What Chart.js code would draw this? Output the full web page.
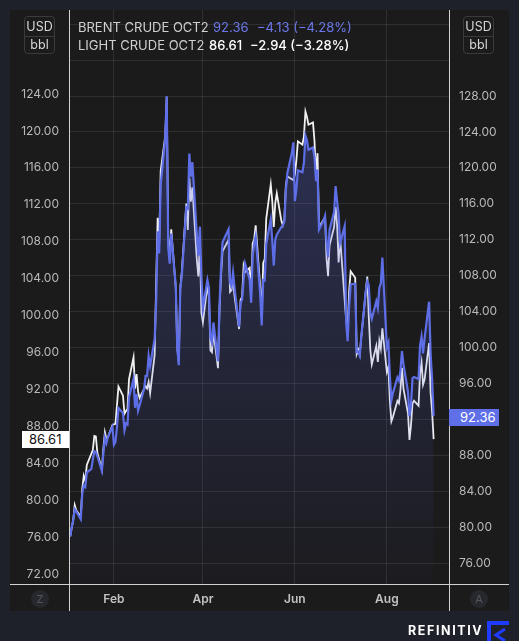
<!DOCTYPE html>
<html><head><meta charset="utf-8">
<script src="https://cdn.jsdelivr.net/npm/chart.js@4/dist/chart.umd.min.js"></script>
<style>
html,body{margin:0;padding:0;background:#1f212a;width:519px;height:641px;overflow:hidden;font-family:Inter,"Noto Sans",sans-serif;}
#box{position:absolute;left:10px;top:10px;width:499px;height:601px;background:#1b1b1c;}
#wrap{position:absolute;left:0;top:0;width:519px;height:641px;}
.t{position:absolute;white-space:nowrap;font-size:13px;line-height:16px;}
.unit{position:absolute;top:16px;width:31px;height:38px;border:1px solid #3b3b3f;border-radius:4px;box-sizing:border-box;color:#d6d6d8;font-size:12.5px;text-align:center;}
.unit .a{position:absolute;left:0;right:0;top:1px;height:18px;line-height:18px;border-bottom:1px solid #3b3b3f;}
.unit .b{position:absolute;left:0;right:0;top:19px;height:17px;line-height:17px;}
.circ{position:absolute;top:590px;width:18px;height:18px;border-radius:9px;background:#27282d;color:#55565c;font-size:11px;line-height:18px;text-align:center;}
.vbox{position:absolute;height:17px;line-height:17px;font-size:13px;box-sizing:border-box;}
</style></head>
<body>
<div id="box"></div>
<div id="wrap"><canvas id="c"></canvas></div>
<div class="unit" style="left:24px"><div class="a">USD</div><div class="b">bbl</div></div>
<div class="unit" style="left:463px"><div class="a">USD</div><div class="b">bbl</div></div>
<div class="t" style="left:78px;top:19px;color:#d0d0d3">BRENT CRUDE OCT2</div>
<div class="t" style="left:213px;top:19px;color:#6b78ea">92.36</div>
<div class="t" style="left:257px;top:19px;color:#6b78ea">−4.13 (−4.28%)</div>
<div class="t" style="left:78px;top:37px;color:#d0d0d3">LIGHT CRUDE OCT2</div>
<div class="t" style="left:209px;top:37px;color:#ffffff;font-weight:500">86.61</div>
<div class="t" style="left:250px;top:37px;color:#ffffff;font-weight:500">−2.94 (−3.28%)</div>
<div class="circ" style="left:31px">Z</div>
<div class="circ" style="left:470px">A</div>
<div class="t" style="left:408px;top:623px;color:#ffffff;font-weight:700;font-size:12.5px;letter-spacing:1.6px">REFINITIV</div>
<svg style="position:absolute;left:486px;top:620px" width="33" height="21">
<path d="M3 21 V3 H23" fill="none" stroke="#1f3bff" stroke-width="4"/>
<path d="M19 9 L10 15 L19 21" fill="none" stroke="#1f3bff" stroke-width="3"/>
</svg>
<div id="lv" class="vbox" style="left:22px;width:47px;background:#ffffff;color:#111;padding-left:7px">86.61</div>
<div id="rv" class="vbox" style="left:449px;width:50px;background:#5f6fe8;color:#fff;padding-left:11px">92.36</div>
<script>
// ---- data (2022) ----
const dates = [
 '01-03','01-04','01-05','01-06','01-07','01-10','01-11','01-12','01-13','01-14','01-17','01-18','01-19','01-20','01-21','01-24','01-25','01-26','01-27','01-28','01-31',
 '02-01','02-02','02-03','02-04','02-07','02-08','02-09','02-10','02-11','02-14','02-15','02-16','02-17','02-18','02-21','02-22','02-23','02-24','02-25','02-28',
 '03-01','03-02','03-03','03-04','03-07','03-08','03-09','03-10','03-11','03-14','03-15','03-16','03-17','03-18','03-21','03-22','03-23','03-24','03-25','03-28','03-29','03-30','03-31',
 '04-01','04-04','04-05','04-06','04-07','04-08','04-11','04-12','04-13','04-14','04-18','04-19','04-20','04-21','04-22','04-25','04-26','04-27','04-28','04-29',
 '05-02','05-03','05-04','05-05','05-06','05-09','05-10','05-11','05-12','05-13','05-16','05-17','05-18','05-19','05-20','05-23','05-24','05-25','05-26','05-27','05-30','05-31',
 '06-01','06-02','06-03','06-06','06-07','06-08','06-09','06-10','06-13','06-14','06-15','06-16','06-17','06-20','06-21','06-22','06-23','06-24','06-27','06-28','06-29','06-30',
 '07-01','07-04','07-05','07-06','07-07','07-08','07-11','07-12','07-13','07-14','07-15','07-18','07-19','07-20','07-21','07-22','07-25','07-26','07-27','07-28','07-29',
 '08-01','08-02','08-03','08-04','08-05','08-08','08-09','08-10','08-11','08-12','08-15','08-16','08-17','08-18','08-19','08-22','08-23','08-24','08-25','08-26','08-29','08-30','08-31',
 '09-01'
];
const brent = [
 78.98,80.00,80.80,81.99,81.75,80.87,83.72,84.67,84.47,86.06,86.48,87.51,88.44,88.38,87.89,86.27,88.20,89.96,89.34,90.03,91.21,
 89.16,89.47,91.11,93.27,92.69,90.78,91.55,91.41,94.44,96.48,93.28,94.81,92.97,93.54,95.39,96.84,96.84,99.08,97.93,100.99,
 104.97,112.93,110.46,118.11,123.21,127.98,111.14,109.33,112.67,106.90,99.91,98.02,106.64,107.93,115.62,115.48,121.60,119.03,120.65,112.48,110.23,113.45,107.91,
 104.39,107.53,106.64,101.07,100.58,102.78,98.48,104.64,108.78,111.70,113.16,107.25,106.80,108.33,106.65,102.32,104.99,105.32,107.59,109.34,
 107.58,104.97,110.14,111.55,112.39,105.94,102.46,107.51,107.45,111.55,114.24,111.93,109.11,112.04,112.55,113.42,113.56,114.03,117.40,119.43,121.67,122.84,
 116.29,117.61,119.72,119.51,120.57,123.58,123.07,122.01,122.27,121.17,118.51,119.81,113.12,114.13,114.65,111.74,110.05,113.12,115.09,117.98,116.26,114.81,
 111.63,113.50,102.77,100.69,104.65,107.02,107.10,99.49,99.57,99.10,101.16,106.27,107.35,106.92,103.86,103.20,105.15,104.40,106.62,107.14,110.01,
 100.03,100.54,96.78,94.12,94.92,96.65,96.31,97.40,99.60,98.15,95.10,92.34,93.65,96.59,96.72,96.48,100.22,101.22,99.34,100.99,105.09,99.31,96.49,
 92.36
];
const light = [
 76.08,76.99,77.85,79.46,78.90,78.23,81.22,82.64,82.12,83.82,null,85.43,86.96,86.90,85.14,83.31,85.60,87.35,86.61,86.82,88.15,
 88.20,88.26,90.27,92.31,91.32,89.36,89.66,89.88,93.10,95.46,92.07,93.66,91.76,91.07,null,92.35,92.10,92.81,91.59,95.72,
 103.41,110.60,107.67,115.68,119.40,123.70,108.70,106.02,109.33,103.01,96.44,95.04,102.98,104.70,112.12,109.27,114.93,112.34,113.90,105.96,104.24,107.82,100.28,
 99.27,103.28,102.00,96.23,96.03,98.26,94.29,100.60,104.25,106.95,108.21,102.56,102.75,103.79,102.07,98.54,101.70,102.02,105.36,104.69,
 105.17,102.41,107.81,108.26,109.77,103.09,99.76,105.71,106.13,110.49,114.20,112.40,109.59,112.21,113.23,110.29,109.77,110.33,114.09,115.07,null,114.67,
 115.26,116.87,118.87,118.50,119.41,122.11,121.51,120.67,120.93,118.93,115.31,117.59,109.56,null,110.65,106.19,104.27,107.62,109.57,111.76,109.78,105.76,
 108.43,null,99.50,98.53,102.73,104.79,104.09,95.84,96.30,95.78,97.59,102.60,104.22,99.88,96.35,94.70,96.70,94.98,97.26,96.42,98.62,
 93.89,94.42,90.66,88.54,89.01,90.76,90.50,91.93,94.34,92.09,89.41,86.53,88.11,90.50,90.77,90.23,93.74,94.89,92.52,93.06,97.01,91.64,89.55,
 86.61
];
const leftTicks = [72,76,80,84,88,92,96,100,104,108,112,116,120,124];
const rightTicks = [76,80,84,88,92,96,100,104,108,112,116,120,124,128,132,136];
const rightHidden = [92,132,136];
const monthDates = ['02-01','04-01','06-01','08-01'];
const monthLabels = ['Feb','Apr','Jun','Aug'];
const brentLast = 92.36, lightLast = 86.61;

function dayOf(md){const p=md.split('-').map(Number);return (Date.UTC(2022,p[0]-1,p[1])-Date.UTC(2022,0,1))/86400000;}

const BLUE='#5e6ee6';
const GRID='rgba(255,255,255,0.09)';
const noPad=(s)=>{s.paddingTop=0;s.paddingBottom=0;s.paddingLeft=0;s.paddingRight=0;};
const frame={id:'frame',afterDraw(chart){
  const ctx=chart.ctx,a=chart.chartArea;
  ctx.save();ctx.strokeStyle='#d2d2d4';ctx.lineWidth=1;ctx.beginPath();
  const l=Math.round(a.left)+0.5,r=Math.round(a.right)+0.5,b=Math.round(a.bottom)+0.5;
  ctx.moveTo(l,10);ctx.lineTo(l,611);
  ctx.moveTo(r,10);ctx.lineTo(r,611);
  ctx.moveTo(10,b);ctx.lineTo(509,b);
  ctx.stroke();ctx.restore();
}};

const chart=new Chart(document.getElementById('c'),{
  type:'line',
  data:{datasets:[
    {label:'BRENT CRUDE OCT2',yAxisID:'yR',order:1,data:dates.map((d,i)=>({x:dayOf(d),y:brent[i]})),
     borderColor:BLUE,borderWidth:2.2,pointRadius:0,tension:0,fill:'start',
     backgroundColor:(c)=>{const a=c.chart.chartArea;if(!a)return 'rgba(0,0,0,0)';
       const g=c.chart.ctx.createLinearGradient(0,a.top,0,a.bottom);
       g.addColorStop(0,'rgba(88,100,215,0.36)');g.addColorStop(1,'rgba(88,100,215,0.02)');return g;}},
    {label:'LIGHT CRUDE OCT2',yAxisID:'yL',order:2,data:dates.map((d,i)=>({x:dayOf(d),y:light[i]})),
     borderColor:'#f2f2f2',borderWidth:1.8,pointRadius:0,tension:0,spanGaps:true,fill:false}
  ]},
  options:{
    responsive:true,maintainAspectRatio:false,animation:false,
    layout:{padding:{left:10,right:10,top:10,bottom:30}},
    plugins:{legend:{display:false},tooltip:{enabled:false}},
    scales:{
      x:{type:'linear',min:1.2,max:253.2,
        grid:{color:GRID,drawTicks:false},border:{display:false},
        afterBuildTicks:(s)=>{s.ticks=monthDates.map(m=>({value:dayOf(m)}));},
        ticks:{color:'#c2c2c4',font:{family:'Inter',size:12,weight:'600'},padding:8,maxRotation:0,autoSkip:false,
          callback:(v)=>{const i=monthDates.findIndex(m=>dayOf(m)===v);return i>=0?monthLabels[i]:'';}},
        afterFit:(s)=>{s.height=27;noPad(s);}},
      yL:{type:'linear',position:'left',min:70.917,max:133.1,
        grid:{display:false,drawTicks:false},border:{display:false},
        afterBuildTicks:(s)=>{s.ticks=leftTicks.map(v=>({value:v}));},
        ticks:{color:'#b9b9bc',font:{family:'Inter',size:12},padding:10,autoSkip:false,callback:(v)=>v.toFixed(2)},
        afterFit:(s)=>{s.width=59;noPad(s);}},
      yR:{type:'linear',position:'right',min:73.662,max:137.576,
        grid:{color:GRID,drawTicks:false},border:{display:false},
        afterBuildTicks:(s)=>{s.ticks=rightTicks.map(v=>({value:v}));},
        ticks:{color:'#b9b9bc',font:{family:'Inter',size:12},padding:10,autoSkip:false,
          callback:(v)=>rightHidden.includes(v)?'':v.toFixed(2)},
        afterFit:(s)=>{s.width=60;noPad(s);}}
    }
  },
  plugins:[frame]
});
const ly=chart.scales.yL.getPixelForValue(lightLast);
const ry=chart.scales.yR.getPixelForValue(brentLast);
document.getElementById('lv').style.top=(ly-8.5)+'px';
document.getElementById('rv').style.top=(ry-7.5)+'px';
</script>
</body></html>
